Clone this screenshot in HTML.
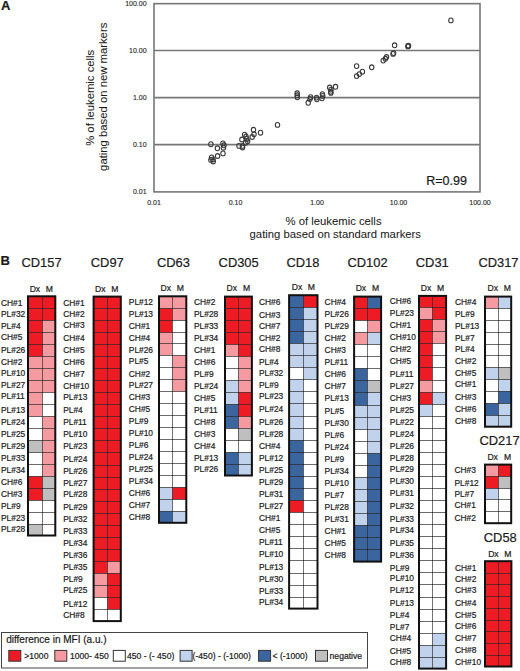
<!DOCTYPE html>
<html><head><meta charset="utf-8"><style>
*{margin:0;padding:0}
html,body{width:520px;height:671px;overflow:hidden;background:#fff}
svg{display:block}
text{font-family:"Liberation Sans",sans-serif;fill:#1a1a1a;stroke:#1a1a1a;stroke-width:0.2px}
.il{stroke:#000;stroke-opacity:0.58;stroke-width:1}
.vl{stroke:#000;stroke-opacity:0.55;stroke-width:1}
.ob{fill:none;stroke:#111;stroke-width:2}
.lb{font-size:8.4px}
.tt{font-size:12.9px;text-anchor:middle}
.dm{font-size:8.6px;text-anchor:middle}
.gl{stroke:#777;stroke-width:1.6}
.ax{fill:none;stroke:#777;stroke-width:1.6}
.tk{font-size:7px;stroke-width:0.1px}
.pt{fill:none;stroke:#3a3a3a;stroke-width:1.1}
.rv{font-size:12.5px}
.at{font-size:11.3px;stroke-width:0.05px}
.lg1{font-size:10px}
.lg2{font-size:8.6px}
.bl{font-size:13px;font-weight:bold}
</style></head>
<body><svg width="520" height="671" viewBox="0 0 520 671">
<text x="1.1" y="10.3" class="bl">A</text>
<text x="0.4" y="265.4" class="bl">B</text>
<line x1="154.00" y1="50.45" x2="480.00" y2="50.45" class="gl"/>
<line x1="154.00" y1="97.60" x2="480.00" y2="97.60" class="gl"/>
<line x1="154.00" y1="144.60" x2="480.00" y2="144.60" class="gl"/>
<rect x="154.00" y="3.65" width="326.00" height="188.25" class="ax"/>
<text x="146.6" y="6.15" class="tk" text-anchor="end">100.00</text>
<text x="146.6" y="52.95" class="tk" text-anchor="end">10.00</text>
<text x="146.6" y="100.10" class="tk" text-anchor="end">1.00</text>
<text x="146.6" y="147.10" class="tk" text-anchor="end">0.10</text>
<text x="146.6" y="194.40" class="tk" text-anchor="end">0.01</text>
<text x="154.00" y="205.0" class="tk" text-anchor="middle">0.01</text>
<text x="235.50" y="205.0" class="tk" text-anchor="middle">0.10</text>
<text x="317.00" y="205.0" class="tk" text-anchor="middle">1.00</text>
<text x="398.50" y="205.0" class="tk" text-anchor="middle">10.00</text>
<text x="480.00" y="205.0" class="tk" text-anchor="middle">100.00</text>
<ellipse cx="210.90" cy="144.20" rx="2.2" ry="2.4" class="pt"/>
<ellipse cx="217.40" cy="148.30" rx="2.2" ry="2.4" class="pt"/>
<ellipse cx="217.60" cy="156.00" rx="2.2" ry="2.4" class="pt"/>
<ellipse cx="223.00" cy="153.40" rx="2.2" ry="2.4" class="pt"/>
<ellipse cx="222.90" cy="143.40" rx="2.2" ry="2.4" class="pt"/>
<ellipse cx="224.00" cy="145.30" rx="2.2" ry="2.4" class="pt"/>
<ellipse cx="223.40" cy="147.70" rx="2.2" ry="2.4" class="pt"/>
<ellipse cx="211.60" cy="157.40" rx="2.2" ry="2.4" class="pt"/>
<ellipse cx="210.90" cy="159.90" rx="2.2" ry="2.4" class="pt"/>
<ellipse cx="213.00" cy="159.40" rx="2.2" ry="2.4" class="pt"/>
<ellipse cx="213.20" cy="161.50" rx="2.2" ry="2.4" class="pt"/>
<ellipse cx="239.00" cy="145.90" rx="2.2" ry="2.4" class="pt"/>
<ellipse cx="242.50" cy="145.90" rx="2.2" ry="2.4" class="pt"/>
<ellipse cx="242.50" cy="147.50" rx="2.2" ry="2.4" class="pt"/>
<ellipse cx="253.50" cy="129.80" rx="2.2" ry="2.4" class="pt"/>
<ellipse cx="260.50" cy="132.70" rx="2.2" ry="2.4" class="pt"/>
<ellipse cx="254.00" cy="134.30" rx="2.2" ry="2.4" class="pt"/>
<ellipse cx="252.20" cy="137.00" rx="2.2" ry="2.4" class="pt"/>
<ellipse cx="244.60" cy="134.60" rx="2.2" ry="2.4" class="pt"/>
<ellipse cx="246.00" cy="136.50" rx="2.2" ry="2.4" class="pt"/>
<ellipse cx="246.80" cy="138.90" rx="2.2" ry="2.4" class="pt"/>
<ellipse cx="241.90" cy="139.50" rx="2.2" ry="2.4" class="pt"/>
<ellipse cx="247.60" cy="141.30" rx="2.2" ry="2.4" class="pt"/>
<ellipse cx="245.70" cy="142.70" rx="2.2" ry="2.4" class="pt"/>
<ellipse cx="277.50" cy="124.90" rx="2.2" ry="2.4" class="pt"/>
<ellipse cx="297.20" cy="93.30" rx="2.2" ry="2.4" class="pt"/>
<ellipse cx="297.20" cy="95.30" rx="2.2" ry="2.4" class="pt"/>
<ellipse cx="297.30" cy="97.30" rx="2.2" ry="2.4" class="pt"/>
<ellipse cx="308.20" cy="102.80" rx="2.2" ry="2.4" class="pt"/>
<ellipse cx="310.60" cy="97.20" rx="2.2" ry="2.4" class="pt"/>
<ellipse cx="310.00" cy="99.00" rx="2.2" ry="2.4" class="pt"/>
<ellipse cx="316.50" cy="97.60" rx="2.2" ry="2.4" class="pt"/>
<ellipse cx="316.90" cy="99.30" rx="2.2" ry="2.4" class="pt"/>
<ellipse cx="322.40" cy="94.10" rx="2.2" ry="2.4" class="pt"/>
<ellipse cx="322.70" cy="95.90" rx="2.2" ry="2.4" class="pt"/>
<ellipse cx="322.00" cy="98.30" rx="2.2" ry="2.4" class="pt"/>
<ellipse cx="329.70" cy="87.50" rx="2.2" ry="2.4" class="pt"/>
<ellipse cx="331.00" cy="89.60" rx="2.2" ry="2.4" class="pt"/>
<ellipse cx="330.70" cy="91.70" rx="2.2" ry="2.4" class="pt"/>
<ellipse cx="330.90" cy="92.90" rx="2.2" ry="2.4" class="pt"/>
<ellipse cx="335.50" cy="86.80" rx="2.2" ry="2.4" class="pt"/>
<ellipse cx="356.60" cy="66.10" rx="2.2" ry="2.4" class="pt"/>
<ellipse cx="356.60" cy="76.10" rx="2.2" ry="2.4" class="pt"/>
<ellipse cx="359.30" cy="74.10" rx="2.2" ry="2.4" class="pt"/>
<ellipse cx="362.40" cy="71.70" rx="2.2" ry="2.4" class="pt"/>
<ellipse cx="371.70" cy="67.30" rx="2.2" ry="2.4" class="pt"/>
<ellipse cx="383.20" cy="60.60" rx="2.2" ry="2.4" class="pt"/>
<ellipse cx="385.40" cy="58.80" rx="2.2" ry="2.4" class="pt"/>
<ellipse cx="386.50" cy="57.00" rx="2.2" ry="2.4" class="pt"/>
<ellipse cx="394.60" cy="45.30" rx="2.2" ry="2.4" class="pt"/>
<ellipse cx="393.00" cy="53.90" rx="2.2" ry="2.4" class="pt"/>
<ellipse cx="393.60" cy="53.10" rx="2.2" ry="2.4" class="pt"/>
<ellipse cx="408.30" cy="45.60" rx="2.2" ry="2.4" class="pt"/>
<ellipse cx="407.90" cy="46.40" rx="2.2" ry="2.4" class="pt"/>
<ellipse cx="408.50" cy="46.00" rx="2.2" ry="2.4" class="pt"/>
<ellipse cx="450.90" cy="20.40" rx="2.2" ry="2.4" class="pt"/>
<text x="426.2" y="185.2" class="rv">R=0.99</text>
<text x="333.5" y="224.5" class="at" text-anchor="middle">% of leukemic cells</text>
<text x="335.3" y="237.6" class="at" text-anchor="middle">gating based on standard markers</text>
<g transform="translate(93.9,97.8) rotate(-90)"><text x="0" y="0" class="at" text-anchor="middle">% of leukemic cells</text></g>
<g transform="translate(106.9,96.8) rotate(-90)"><text x="0" y="0" class="at" text-anchor="middle">gating based on new markers</text></g>
<rect x="28.00" y="296.30" width="14.50" height="12.20" fill="#ED1C24"/>
<rect x="42.50" y="296.30" width="12.80" height="12.20" fill="#ED1C24"/>
<rect x="28.00" y="308.50" width="14.50" height="12.00" fill="#ED1C24"/>
<rect x="42.50" y="308.50" width="12.80" height="12.00" fill="#ED1C24"/>
<rect x="28.00" y="320.50" width="14.50" height="12.00" fill="#ED1C24"/>
<rect x="42.50" y="320.50" width="12.80" height="12.00" fill="#F59AA0"/>
<rect x="28.00" y="332.50" width="14.50" height="12.00" fill="#ED1C24"/>
<rect x="42.50" y="332.50" width="12.80" height="12.00" fill="#F59AA0"/>
<rect x="28.00" y="344.50" width="14.50" height="12.00" fill="#ED1C24"/>
<rect x="42.50" y="344.50" width="12.80" height="12.00" fill="#F59AA0"/>
<rect x="28.00" y="356.50" width="14.50" height="12.00" fill="#F59AA0"/>
<rect x="42.50" y="356.50" width="12.80" height="12.00" fill="#F59AA0"/>
<rect x="28.00" y="368.50" width="14.50" height="12.00" fill="#F59AA0"/>
<rect x="42.50" y="368.50" width="12.80" height="12.00" fill="#F59AA0"/>
<rect x="28.00" y="380.50" width="14.50" height="12.00" fill="#F59AA0"/>
<rect x="42.50" y="380.50" width="12.80" height="12.00" fill="#F59AA0"/>
<rect x="28.00" y="392.50" width="14.50" height="12.00" fill="#F59AA0"/>
<rect x="42.50" y="392.50" width="12.80" height="12.00" fill="#FFFFFF"/>
<rect x="28.00" y="404.50" width="14.50" height="12.00" fill="#F59AA0"/>
<rect x="42.50" y="404.50" width="12.80" height="12.00" fill="#FFFFFF"/>
<rect x="28.00" y="416.50" width="14.50" height="12.00" fill="#FFFFFF"/>
<rect x="42.50" y="416.50" width="12.80" height="12.00" fill="#F59AA0"/>
<rect x="28.00" y="428.50" width="14.50" height="12.00" fill="#FFFFFF"/>
<rect x="42.50" y="428.50" width="12.80" height="12.00" fill="#F59AA0"/>
<rect x="28.00" y="440.50" width="14.50" height="12.00" fill="#BFBFBF"/>
<rect x="42.50" y="440.50" width="12.80" height="12.00" fill="#F59AA0"/>
<rect x="28.00" y="452.50" width="14.50" height="12.00" fill="#FFFFFF"/>
<rect x="42.50" y="452.50" width="12.80" height="12.00" fill="#F59AA0"/>
<rect x="28.00" y="464.50" width="14.50" height="12.00" fill="#FFFFFF"/>
<rect x="42.50" y="464.50" width="12.80" height="12.00" fill="#F59AA0"/>
<rect x="28.00" y="476.50" width="14.50" height="12.00" fill="#ED1C24"/>
<rect x="42.50" y="476.50" width="12.80" height="12.00" fill="#BFBFBF"/>
<rect x="28.00" y="488.50" width="14.50" height="12.00" fill="#ED1C24"/>
<rect x="42.50" y="488.50" width="12.80" height="12.00" fill="#BFBFBF"/>
<rect x="28.00" y="500.50" width="14.50" height="12.00" fill="#FFFFFF"/>
<rect x="42.50" y="500.50" width="12.80" height="12.00" fill="#FFFFFF"/>
<rect x="28.00" y="512.50" width="14.50" height="12.00" fill="#FFFFFF"/>
<rect x="42.50" y="512.50" width="12.80" height="12.00" fill="#FFFFFF"/>
<rect x="28.00" y="524.50" width="14.50" height="11.00" fill="#BFBFBF"/>
<rect x="42.50" y="524.50" width="12.80" height="11.00" fill="#FFFFFF"/>
<line x1="28.00" y1="308.50" x2="55.30" y2="308.50" class="il"/>
<line x1="28.00" y1="320.50" x2="55.30" y2="320.50" class="il"/>
<line x1="28.00" y1="332.50" x2="55.30" y2="332.50" class="il"/>
<line x1="28.00" y1="344.50" x2="55.30" y2="344.50" class="il"/>
<line x1="28.00" y1="356.50" x2="55.30" y2="356.50" class="il"/>
<line x1="28.00" y1="368.50" x2="55.30" y2="368.50" class="il"/>
<line x1="28.00" y1="380.50" x2="55.30" y2="380.50" class="il"/>
<line x1="28.00" y1="392.50" x2="55.30" y2="392.50" class="il"/>
<line x1="28.00" y1="404.50" x2="55.30" y2="404.50" class="il"/>
<line x1="28.00" y1="416.50" x2="55.30" y2="416.50" class="il"/>
<line x1="28.00" y1="428.50" x2="55.30" y2="428.50" class="il"/>
<line x1="28.00" y1="440.50" x2="55.30" y2="440.50" class="il"/>
<line x1="28.00" y1="452.50" x2="55.30" y2="452.50" class="il"/>
<line x1="28.00" y1="464.50" x2="55.30" y2="464.50" class="il"/>
<line x1="28.00" y1="476.50" x2="55.30" y2="476.50" class="il"/>
<line x1="28.00" y1="488.50" x2="55.30" y2="488.50" class="il"/>
<line x1="28.00" y1="500.50" x2="55.30" y2="500.50" class="il"/>
<line x1="28.00" y1="512.50" x2="55.30" y2="512.50" class="il"/>
<line x1="28.00" y1="524.50" x2="55.30" y2="524.50" class="il"/>
<line x1="42.50" y1="296.30" x2="42.50" y2="535.50" class="vl"/>
<rect x="28.00" y="296.30" width="27.30" height="239.20" class="ob"/>
<text x="1.00" y="305.70" class="lb">CH#1</text>
<text x="1.00" y="317.40" class="lb">PL#32</text>
<text x="1.00" y="328.81" class="lb">PL#4</text>
<text x="1.00" y="340.31" class="lb">CH#5</text>
<text x="1.00" y="352.82" class="lb">PL#26</text>
<text x="1.00" y="364.82" class="lb">CH#2</text>
<text x="1.00" y="376.13" class="lb">PL#10</text>
<text x="1.00" y="387.94" class="lb">PL#27</text>
<text x="1.00" y="399.34" class="lb">PL#11</text>
<text x="1.00" y="412.85" class="lb">PL#13</text>
<text x="1.00" y="424.85" class="lb">PL#24</text>
<text x="1.00" y="436.86" class="lb">PL#25</text>
<text x="1.00" y="448.86" class="lb">PL#29</text>
<text x="1.00" y="460.87" class="lb">PL#33</text>
<text x="1.00" y="472.88" class="lb">PL#34</text>
<text x="1.00" y="484.88" class="lb">CH#6</text>
<text x="1.00" y="496.89" class="lb">CH#3</text>
<text x="1.00" y="508.89" class="lb">PL#9</text>
<text x="1.00" y="520.90" class="lb">PL#23</text>
<text x="1.00" y="532.45" class="lb">PL#28</text>
<text x="41.50" y="267.20" class="tt">CD157</text>
<text x="34.90" y="291.80" class="dm">Dx</text>
<text x="49.40" y="291.80" class="dm">M</text>
<rect x="93.60" y="296.60" width="13.90" height="11.90" fill="#ED1C24"/>
<rect x="107.50" y="296.60" width="13.30" height="11.90" fill="#ED1C24"/>
<rect x="93.60" y="308.50" width="13.90" height="12.00" fill="#ED1C24"/>
<rect x="107.50" y="308.50" width="13.30" height="12.00" fill="#ED1C24"/>
<rect x="93.60" y="320.50" width="13.90" height="12.00" fill="#ED1C24"/>
<rect x="107.50" y="320.50" width="13.30" height="12.00" fill="#ED1C24"/>
<rect x="93.60" y="332.50" width="13.90" height="12.00" fill="#ED1C24"/>
<rect x="107.50" y="332.50" width="13.30" height="12.00" fill="#ED1C24"/>
<rect x="93.60" y="344.50" width="13.90" height="12.00" fill="#ED1C24"/>
<rect x="107.50" y="344.50" width="13.30" height="12.00" fill="#ED1C24"/>
<rect x="93.60" y="356.50" width="13.90" height="12.00" fill="#ED1C24"/>
<rect x="107.50" y="356.50" width="13.30" height="12.00" fill="#ED1C24"/>
<rect x="93.60" y="368.50" width="13.90" height="12.00" fill="#ED1C24"/>
<rect x="107.50" y="368.50" width="13.30" height="12.00" fill="#ED1C24"/>
<rect x="93.60" y="380.50" width="13.90" height="12.00" fill="#ED1C24"/>
<rect x="107.50" y="380.50" width="13.30" height="12.00" fill="#ED1C24"/>
<rect x="93.60" y="392.50" width="13.90" height="12.00" fill="#ED1C24"/>
<rect x="107.50" y="392.50" width="13.30" height="12.00" fill="#ED1C24"/>
<rect x="93.60" y="404.50" width="13.90" height="12.00" fill="#ED1C24"/>
<rect x="107.50" y="404.50" width="13.30" height="12.00" fill="#ED1C24"/>
<rect x="93.60" y="416.50" width="13.90" height="12.00" fill="#ED1C24"/>
<rect x="107.50" y="416.50" width="13.30" height="12.00" fill="#ED1C24"/>
<rect x="93.60" y="428.50" width="13.90" height="12.00" fill="#ED1C24"/>
<rect x="107.50" y="428.50" width="13.30" height="12.00" fill="#ED1C24"/>
<rect x="93.60" y="440.50" width="13.90" height="12.00" fill="#ED1C24"/>
<rect x="107.50" y="440.50" width="13.30" height="12.00" fill="#ED1C24"/>
<rect x="93.60" y="452.50" width="13.90" height="13.00" fill="#ED1C24"/>
<rect x="107.50" y="452.50" width="13.30" height="13.00" fill="#ED1C24"/>
<rect x="93.60" y="465.50" width="13.90" height="12.00" fill="#ED1C24"/>
<rect x="107.50" y="465.50" width="13.30" height="12.00" fill="#ED1C24"/>
<rect x="93.60" y="477.50" width="13.90" height="12.00" fill="#ED1C24"/>
<rect x="107.50" y="477.50" width="13.30" height="12.00" fill="#ED1C24"/>
<rect x="93.60" y="489.50" width="13.90" height="12.00" fill="#ED1C24"/>
<rect x="107.50" y="489.50" width="13.30" height="12.00" fill="#ED1C24"/>
<rect x="93.60" y="501.50" width="13.90" height="12.00" fill="#ED1C24"/>
<rect x="107.50" y="501.50" width="13.30" height="12.00" fill="#ED1C24"/>
<rect x="93.60" y="513.50" width="13.90" height="12.00" fill="#ED1C24"/>
<rect x="107.50" y="513.50" width="13.30" height="12.00" fill="#ED1C24"/>
<rect x="93.60" y="525.50" width="13.90" height="12.00" fill="#ED1C24"/>
<rect x="107.50" y="525.50" width="13.30" height="12.00" fill="#ED1C24"/>
<rect x="93.60" y="537.50" width="13.90" height="12.00" fill="#ED1C24"/>
<rect x="107.50" y="537.50" width="13.30" height="12.00" fill="#ED1C24"/>
<rect x="93.60" y="549.50" width="13.90" height="12.00" fill="#ED1C24"/>
<rect x="107.50" y="549.50" width="13.30" height="12.00" fill="#ED1C24"/>
<rect x="93.60" y="561.50" width="13.90" height="12.00" fill="#ED1C24"/>
<rect x="107.50" y="561.50" width="13.30" height="12.00" fill="#F59AA0"/>
<rect x="93.60" y="573.50" width="13.90" height="12.00" fill="#F59AA0"/>
<rect x="107.50" y="573.50" width="13.30" height="12.00" fill="#ED1C24"/>
<rect x="93.60" y="585.50" width="13.90" height="12.00" fill="#F59AA0"/>
<rect x="107.50" y="585.50" width="13.30" height="12.00" fill="#ED1C24"/>
<rect x="93.60" y="597.50" width="13.90" height="12.00" fill="#FFFFFF"/>
<rect x="107.50" y="597.50" width="13.30" height="12.00" fill="#ED1C24"/>
<rect x="93.60" y="609.50" width="13.90" height="11.60" fill="#FFFFFF"/>
<rect x="107.50" y="609.50" width="13.30" height="11.60" fill="#FFFFFF"/>
<line x1="93.60" y1="308.50" x2="120.80" y2="308.50" class="il"/>
<line x1="93.60" y1="320.50" x2="120.80" y2="320.50" class="il"/>
<line x1="93.60" y1="332.50" x2="120.80" y2="332.50" class="il"/>
<line x1="93.60" y1="344.50" x2="120.80" y2="344.50" class="il"/>
<line x1="93.60" y1="356.50" x2="120.80" y2="356.50" class="il"/>
<line x1="93.60" y1="368.50" x2="120.80" y2="368.50" class="il"/>
<line x1="93.60" y1="380.50" x2="120.80" y2="380.50" class="il"/>
<line x1="93.60" y1="392.50" x2="120.80" y2="392.50" class="il"/>
<line x1="93.60" y1="404.50" x2="120.80" y2="404.50" class="il"/>
<line x1="93.60" y1="416.50" x2="120.80" y2="416.50" class="il"/>
<line x1="93.60" y1="428.50" x2="120.80" y2="428.50" class="il"/>
<line x1="93.60" y1="440.50" x2="120.80" y2="440.50" class="il"/>
<line x1="93.60" y1="452.50" x2="120.80" y2="452.50" class="il"/>
<line x1="93.60" y1="465.50" x2="120.80" y2="465.50" class="il"/>
<line x1="93.60" y1="477.50" x2="120.80" y2="477.50" class="il"/>
<line x1="93.60" y1="489.50" x2="120.80" y2="489.50" class="il"/>
<line x1="93.60" y1="501.50" x2="120.80" y2="501.50" class="il"/>
<line x1="93.60" y1="513.50" x2="120.80" y2="513.50" class="il"/>
<line x1="93.60" y1="525.50" x2="120.80" y2="525.50" class="il"/>
<line x1="93.60" y1="537.50" x2="120.80" y2="537.50" class="il"/>
<line x1="93.60" y1="549.50" x2="120.80" y2="549.50" class="il"/>
<line x1="93.60" y1="561.50" x2="120.80" y2="561.50" class="il"/>
<line x1="93.60" y1="573.50" x2="120.80" y2="573.50" class="il"/>
<line x1="93.60" y1="585.50" x2="120.80" y2="585.50" class="il"/>
<line x1="93.60" y1="597.50" x2="120.80" y2="597.50" class="il"/>
<line x1="93.60" y1="609.50" x2="120.80" y2="609.50" class="il"/>
<line x1="107.50" y1="296.60" x2="107.50" y2="621.10" class="vl"/>
<rect x="93.60" y="296.60" width="27.20" height="324.50" class="ob"/>
<text x="63.20" y="305.85" class="lb">CH#1</text>
<text x="63.20" y="317.02" class="lb">CH#2</text>
<text x="63.20" y="328.26" class="lb">CH#3</text>
<text x="63.20" y="341.10" class="lb">CH#4</text>
<text x="63.20" y="353.14" class="lb">CH#5</text>
<text x="63.20" y="365.18" class="lb">CH#6</text>
<text x="63.20" y="377.22" class="lb">CH#7</text>
<text x="63.20" y="389.26" class="lb">CH#10</text>
<text x="63.20" y="400.30" class="lb">PL#13</text>
<text x="63.20" y="412.54" class="lb">PL#4</text>
<text x="63.20" y="424.68" class="lb">PL#11</text>
<text x="63.20" y="436.92" class="lb">PL#10</text>
<text x="63.20" y="449.46" class="lb">PL#23</text>
<text x="63.20" y="461.50" class="lb">PL#24</text>
<text x="63.20" y="473.54" class="lb">PL#26</text>
<text x="63.20" y="485.58" class="lb">PL#27</text>
<text x="63.20" y="497.02" class="lb">PL#28</text>
<text x="63.20" y="509.66" class="lb">PL#29</text>
<text x="63.20" y="521.70" class="lb">PL#32</text>
<text x="63.20" y="533.74" class="lb">PL#33</text>
<text x="63.20" y="545.78" class="lb">PL#34</text>
<text x="63.20" y="557.82" class="lb">PL#36</text>
<text x="63.20" y="569.86" class="lb">PL#35</text>
<text x="63.20" y="581.90" class="lb">PL#9</text>
<text x="63.20" y="592.74" class="lb">PL#25</text>
<text x="63.20" y="606.88" class="lb">PL#12</text>
<text x="63.20" y="617.80" class="lb">CH#8</text>
<text x="107.30" y="267.20" class="tt">CD97</text>
<text x="100.30" y="291.80" class="dm">Dx</text>
<text x="114.85" y="291.80" class="dm">M</text>
<rect x="159.00" y="296.30" width="13.50" height="12.20" fill="#F59AA0"/>
<rect x="172.50" y="296.30" width="13.80" height="12.20" fill="#F59AA0"/>
<rect x="159.00" y="308.50" width="13.50" height="12.00" fill="#ED1C24"/>
<rect x="172.50" y="308.50" width="13.80" height="12.00" fill="#F59AA0"/>
<rect x="159.00" y="320.50" width="13.50" height="12.00" fill="#ED1C24"/>
<rect x="172.50" y="320.50" width="13.80" height="12.00" fill="#FFFFFF"/>
<rect x="159.00" y="332.50" width="13.50" height="11.00" fill="#F59AA0"/>
<rect x="172.50" y="332.50" width="13.80" height="11.00" fill="#FFFFFF"/>
<rect x="159.00" y="343.50" width="13.50" height="12.00" fill="#F59AA0"/>
<rect x="172.50" y="343.50" width="13.80" height="12.00" fill="#FFFFFF"/>
<rect x="159.00" y="355.50" width="13.50" height="12.00" fill="#FFFFFF"/>
<rect x="172.50" y="355.50" width="13.80" height="12.00" fill="#F59AA0"/>
<rect x="159.00" y="367.50" width="13.50" height="12.00" fill="#FFFFFF"/>
<rect x="172.50" y="367.50" width="13.80" height="12.00" fill="#F59AA0"/>
<rect x="159.00" y="379.50" width="13.50" height="12.00" fill="#FFFFFF"/>
<rect x="172.50" y="379.50" width="13.80" height="12.00" fill="#F59AA0"/>
<rect x="159.00" y="391.50" width="13.50" height="12.00" fill="#FFFFFF"/>
<rect x="172.50" y="391.50" width="13.80" height="12.00" fill="#FFFFFF"/>
<rect x="159.00" y="403.50" width="13.50" height="12.00" fill="#FFFFFF"/>
<rect x="172.50" y="403.50" width="13.80" height="12.00" fill="#FFFFFF"/>
<rect x="159.00" y="415.50" width="13.50" height="12.00" fill="#FFFFFF"/>
<rect x="172.50" y="415.50" width="13.80" height="12.00" fill="#FFFFFF"/>
<rect x="159.00" y="427.50" width="13.50" height="12.00" fill="#FFFFFF"/>
<rect x="172.50" y="427.50" width="13.80" height="12.00" fill="#FFFFFF"/>
<rect x="159.00" y="439.50" width="13.50" height="12.00" fill="#FFFFFF"/>
<rect x="172.50" y="439.50" width="13.80" height="12.00" fill="#FFFFFF"/>
<rect x="159.00" y="451.50" width="13.50" height="12.00" fill="#FFFFFF"/>
<rect x="172.50" y="451.50" width="13.80" height="12.00" fill="#FFFFFF"/>
<rect x="159.00" y="463.50" width="13.50" height="12.00" fill="#FFFFFF"/>
<rect x="172.50" y="463.50" width="13.80" height="12.00" fill="#FFFFFF"/>
<rect x="159.00" y="475.50" width="13.50" height="12.00" fill="#FFFFFF"/>
<rect x="172.50" y="475.50" width="13.80" height="12.00" fill="#FFFFFF"/>
<rect x="159.00" y="487.50" width="13.50" height="12.00" fill="#C0D2EC"/>
<rect x="172.50" y="487.50" width="13.80" height="12.00" fill="#ED1C24"/>
<rect x="159.00" y="499.50" width="13.50" height="12.00" fill="#C0D2EC"/>
<rect x="172.50" y="499.50" width="13.80" height="12.00" fill="#FFFFFF"/>
<rect x="159.00" y="511.50" width="13.50" height="11.30" fill="#3A659F"/>
<rect x="172.50" y="511.50" width="13.80" height="11.30" fill="#C0D2EC"/>
<line x1="159.00" y1="308.50" x2="186.30" y2="308.50" class="il"/>
<line x1="159.00" y1="320.50" x2="186.30" y2="320.50" class="il"/>
<line x1="159.00" y1="332.50" x2="186.30" y2="332.50" class="il"/>
<line x1="159.00" y1="343.50" x2="186.30" y2="343.50" class="il"/>
<line x1="159.00" y1="355.50" x2="186.30" y2="355.50" class="il"/>
<line x1="159.00" y1="367.50" x2="186.30" y2="367.50" class="il"/>
<line x1="159.00" y1="379.50" x2="186.30" y2="379.50" class="il"/>
<line x1="159.00" y1="391.50" x2="186.30" y2="391.50" class="il"/>
<line x1="159.00" y1="403.50" x2="186.30" y2="403.50" class="il"/>
<line x1="159.00" y1="415.50" x2="186.30" y2="415.50" class="il"/>
<line x1="159.00" y1="427.50" x2="186.30" y2="427.50" class="il"/>
<line x1="159.00" y1="439.50" x2="186.30" y2="439.50" class="il"/>
<line x1="159.00" y1="451.50" x2="186.30" y2="451.50" class="il"/>
<line x1="159.00" y1="463.50" x2="186.30" y2="463.50" class="il"/>
<line x1="159.00" y1="475.50" x2="186.30" y2="475.50" class="il"/>
<line x1="159.00" y1="487.50" x2="186.30" y2="487.50" class="il"/>
<line x1="159.00" y1="499.50" x2="186.30" y2="499.50" class="il"/>
<line x1="159.00" y1="511.50" x2="186.30" y2="511.50" class="il"/>
<line x1="172.50" y1="296.30" x2="172.50" y2="522.80" class="vl"/>
<rect x="159.00" y="296.30" width="27.30" height="226.50" class="ob"/>
<text x="128.80" y="305.40" class="lb">PL#12</text>
<text x="128.80" y="317.38" class="lb">PL#13</text>
<text x="128.80" y="328.90" class="lb">CH#1</text>
<text x="128.80" y="340.91" class="lb">CH#4</text>
<text x="128.80" y="352.88" class="lb">PL#26</text>
<text x="128.80" y="364.19" class="lb">PL#5</text>
<text x="128.80" y="376.51" class="lb">CH#2</text>
<text x="128.80" y="387.67" class="lb">PL#27</text>
<text x="128.80" y="399.69" class="lb">CH#3</text>
<text x="128.80" y="412.30" class="lb">CH#5</text>
<text x="128.80" y="424.26" class="lb">PL#9</text>
<text x="128.80" y="436.23" class="lb">PL#10</text>
<text x="128.80" y="448.19" class="lb">PL#6</text>
<text x="128.80" y="460.16" class="lb">PL#24</text>
<text x="128.80" y="472.12" class="lb">PL#25</text>
<text x="128.80" y="484.09" class="lb">PL#34</text>
<text x="128.80" y="496.05" class="lb">CH#6</text>
<text x="128.80" y="508.02" class="lb">CH#7</text>
<text x="128.80" y="519.65" class="lb">CH#8</text>
<text x="173.45" y="267.20" class="tt">CD63</text>
<text x="165.80" y="290.60" class="dm">Dx</text>
<text x="180.40" y="290.60" class="dm">M</text>
<rect x="225.00" y="296.60" width="13.50" height="11.90" fill="#ED1C24"/>
<rect x="238.50" y="296.60" width="13.40" height="11.90" fill="#ED1C24"/>
<rect x="225.00" y="308.50" width="13.50" height="12.00" fill="#ED1C24"/>
<rect x="238.50" y="308.50" width="13.40" height="12.00" fill="#ED1C24"/>
<rect x="225.00" y="320.50" width="13.50" height="12.00" fill="#ED1C24"/>
<rect x="238.50" y="320.50" width="13.40" height="12.00" fill="#ED1C24"/>
<rect x="225.00" y="332.50" width="13.50" height="12.00" fill="#ED1C24"/>
<rect x="238.50" y="332.50" width="13.40" height="12.00" fill="#ED1C24"/>
<rect x="225.00" y="344.50" width="13.50" height="12.00" fill="#F59AA0"/>
<rect x="238.50" y="344.50" width="13.40" height="12.00" fill="#ED1C24"/>
<rect x="225.00" y="356.50" width="13.50" height="12.00" fill="#FFFFFF"/>
<rect x="238.50" y="356.50" width="13.40" height="12.00" fill="#F59AA0"/>
<rect x="225.00" y="368.50" width="13.50" height="12.00" fill="#FFFFFF"/>
<rect x="238.50" y="368.50" width="13.40" height="12.00" fill="#F59AA0"/>
<rect x="225.00" y="380.50" width="13.50" height="12.00" fill="#C0D2EC"/>
<rect x="238.50" y="380.50" width="13.40" height="12.00" fill="#F59AA0"/>
<rect x="225.00" y="392.50" width="13.50" height="12.00" fill="#C0D2EC"/>
<rect x="238.50" y="392.50" width="13.40" height="12.00" fill="#ED1C24"/>
<rect x="225.00" y="404.50" width="13.50" height="12.00" fill="#3A659F"/>
<rect x="238.50" y="404.50" width="13.40" height="12.00" fill="#ED1C24"/>
<rect x="225.00" y="416.50" width="13.50" height="12.00" fill="#3A659F"/>
<rect x="238.50" y="416.50" width="13.40" height="12.00" fill="#F59AA0"/>
<rect x="225.00" y="428.50" width="13.50" height="12.00" fill="#FFFFFF"/>
<rect x="238.50" y="428.50" width="13.40" height="12.00" fill="#BFBFBF"/>
<rect x="225.00" y="440.50" width="13.50" height="12.00" fill="#FFFFFF"/>
<rect x="238.50" y="440.50" width="13.40" height="12.00" fill="#FFFFFF"/>
<rect x="225.00" y="452.50" width="13.50" height="12.00" fill="#3A659F"/>
<rect x="238.50" y="452.50" width="13.40" height="12.00" fill="#C0D2EC"/>
<rect x="225.00" y="464.50" width="13.50" height="11.00" fill="#3A659F"/>
<rect x="238.50" y="464.50" width="13.40" height="11.00" fill="#C0D2EC"/>
<line x1="225.00" y1="308.50" x2="251.90" y2="308.50" class="il"/>
<line x1="225.00" y1="320.50" x2="251.90" y2="320.50" class="il"/>
<line x1="225.00" y1="332.50" x2="251.90" y2="332.50" class="il"/>
<line x1="225.00" y1="344.50" x2="251.90" y2="344.50" class="il"/>
<line x1="225.00" y1="356.50" x2="251.90" y2="356.50" class="il"/>
<line x1="225.00" y1="368.50" x2="251.90" y2="368.50" class="il"/>
<line x1="225.00" y1="380.50" x2="251.90" y2="380.50" class="il"/>
<line x1="225.00" y1="392.50" x2="251.90" y2="392.50" class="il"/>
<line x1="225.00" y1="404.50" x2="251.90" y2="404.50" class="il"/>
<line x1="225.00" y1="416.50" x2="251.90" y2="416.50" class="il"/>
<line x1="225.00" y1="428.50" x2="251.90" y2="428.50" class="il"/>
<line x1="225.00" y1="440.50" x2="251.90" y2="440.50" class="il"/>
<line x1="225.00" y1="452.50" x2="251.90" y2="452.50" class="il"/>
<line x1="225.00" y1="464.50" x2="251.90" y2="464.50" class="il"/>
<line x1="238.50" y1="296.60" x2="238.50" y2="475.50" class="vl"/>
<rect x="225.00" y="296.60" width="26.90" height="178.90" class="ob"/>
<text x="194.00" y="305.15" class="lb">CH#2</text>
<text x="194.00" y="317.18" class="lb">PL#28</text>
<text x="194.00" y="329.14" class="lb">PL#33</text>
<text x="194.00" y="341.10" class="lb">PL#34</text>
<text x="194.00" y="353.07" class="lb">CH#1</text>
<text x="194.00" y="365.03" class="lb">CH#6</text>
<text x="194.00" y="376.99" class="lb">PL#9</text>
<text x="194.00" y="388.95" class="lb">PL#24</text>
<text x="194.00" y="400.91" class="lb">CH#5</text>
<text x="194.00" y="412.87" class="lb">PL#11</text>
<text x="194.00" y="424.83" class="lb">CH#8</text>
<text x="194.00" y="436.80" class="lb">CH#3</text>
<text x="194.00" y="448.76" class="lb">CH#4</text>
<text x="194.00" y="460.72" class="lb">PL#13</text>
<text x="194.00" y="472.35" class="lb">PL#26</text>
<text x="238.65" y="267.20" class="tt">CD305</text>
<text x="231.80" y="290.80" class="dm">Dx</text>
<text x="246.55" y="290.80" class="dm">M</text>
<rect x="289.10" y="295.20" width="14.40" height="12.30" fill="#3A659F"/>
<rect x="303.50" y="295.20" width="14.00" height="12.30" fill="#ED1C24"/>
<rect x="289.10" y="307.50" width="14.40" height="12.00" fill="#3A659F"/>
<rect x="303.50" y="307.50" width="14.00" height="12.00" fill="#C0D2EC"/>
<rect x="289.10" y="319.50" width="14.40" height="12.00" fill="#3A659F"/>
<rect x="303.50" y="319.50" width="14.00" height="12.00" fill="#C0D2EC"/>
<rect x="289.10" y="331.50" width="14.40" height="12.00" fill="#3A659F"/>
<rect x="303.50" y="331.50" width="14.00" height="12.00" fill="#C0D2EC"/>
<rect x="289.10" y="343.50" width="14.40" height="12.00" fill="#C0D2EC"/>
<rect x="303.50" y="343.50" width="14.00" height="12.00" fill="#C0D2EC"/>
<rect x="289.10" y="355.50" width="14.40" height="12.00" fill="#C0D2EC"/>
<rect x="303.50" y="355.50" width="14.00" height="12.00" fill="#C0D2EC"/>
<rect x="289.10" y="367.50" width="14.40" height="12.00" fill="#FFFFFF"/>
<rect x="303.50" y="367.50" width="14.00" height="12.00" fill="#C0D2EC"/>
<rect x="289.10" y="379.50" width="14.40" height="12.00" fill="#C0D2EC"/>
<rect x="303.50" y="379.50" width="14.00" height="12.00" fill="#FFFFFF"/>
<rect x="289.10" y="391.50" width="14.40" height="12.00" fill="#C0D2EC"/>
<rect x="303.50" y="391.50" width="14.00" height="12.00" fill="#FFFFFF"/>
<rect x="289.10" y="403.50" width="14.40" height="13.00" fill="#C0D2EC"/>
<rect x="303.50" y="403.50" width="14.00" height="13.00" fill="#FFFFFF"/>
<rect x="289.10" y="416.50" width="14.40" height="12.00" fill="#C0D2EC"/>
<rect x="303.50" y="416.50" width="14.00" height="12.00" fill="#FFFFFF"/>
<rect x="289.10" y="428.50" width="14.40" height="12.00" fill="#C0D2EC"/>
<rect x="303.50" y="428.50" width="14.00" height="12.00" fill="#FFFFFF"/>
<rect x="289.10" y="440.50" width="14.40" height="12.00" fill="#3A659F"/>
<rect x="303.50" y="440.50" width="14.00" height="12.00" fill="#FFFFFF"/>
<rect x="289.10" y="452.50" width="14.40" height="12.00" fill="#3A659F"/>
<rect x="303.50" y="452.50" width="14.00" height="12.00" fill="#FFFFFF"/>
<rect x="289.10" y="464.50" width="14.40" height="12.00" fill="#3A659F"/>
<rect x="303.50" y="464.50" width="14.00" height="12.00" fill="#FFFFFF"/>
<rect x="289.10" y="476.50" width="14.40" height="12.00" fill="#3A659F"/>
<rect x="303.50" y="476.50" width="14.00" height="12.00" fill="#FFFFFF"/>
<rect x="289.10" y="488.50" width="14.40" height="12.00" fill="#3A659F"/>
<rect x="303.50" y="488.50" width="14.00" height="12.00" fill="#FFFFFF"/>
<rect x="289.10" y="500.50" width="14.40" height="12.00" fill="#ED1C24"/>
<rect x="303.50" y="500.50" width="14.00" height="12.00" fill="#FFFFFF"/>
<rect x="289.10" y="512.50" width="14.40" height="12.00" fill="#FFFFFF"/>
<rect x="303.50" y="512.50" width="14.00" height="12.00" fill="#FFFFFF"/>
<rect x="289.10" y="524.50" width="14.40" height="12.00" fill="#FFFFFF"/>
<rect x="303.50" y="524.50" width="14.00" height="12.00" fill="#FFFFFF"/>
<rect x="289.10" y="536.50" width="14.40" height="12.00" fill="#FFFFFF"/>
<rect x="303.50" y="536.50" width="14.00" height="12.00" fill="#FFFFFF"/>
<rect x="289.10" y="548.50" width="14.40" height="12.00" fill="#FFFFFF"/>
<rect x="303.50" y="548.50" width="14.00" height="12.00" fill="#FFFFFF"/>
<rect x="289.10" y="560.50" width="14.40" height="13.00" fill="#FFFFFF"/>
<rect x="303.50" y="560.50" width="14.00" height="13.00" fill="#FFFFFF"/>
<rect x="289.10" y="573.50" width="14.40" height="12.00" fill="#FFFFFF"/>
<rect x="303.50" y="573.50" width="14.00" height="12.00" fill="#FFFFFF"/>
<rect x="289.10" y="585.50" width="14.40" height="12.00" fill="#FFFFFF"/>
<rect x="303.50" y="585.50" width="14.00" height="12.00" fill="#FFFFFF"/>
<rect x="289.10" y="597.50" width="14.40" height="11.10" fill="#FFFFFF"/>
<rect x="303.50" y="597.50" width="14.00" height="11.10" fill="#FFFFFF"/>
<line x1="289.10" y1="307.50" x2="317.50" y2="307.50" class="il"/>
<line x1="289.10" y1="319.50" x2="317.50" y2="319.50" class="il"/>
<line x1="289.10" y1="331.50" x2="317.50" y2="331.50" class="il"/>
<line x1="289.10" y1="343.50" x2="317.50" y2="343.50" class="il"/>
<line x1="289.10" y1="355.50" x2="317.50" y2="355.50" class="il"/>
<line x1="289.10" y1="367.50" x2="317.50" y2="367.50" class="il"/>
<line x1="289.10" y1="379.50" x2="317.50" y2="379.50" class="il"/>
<line x1="289.10" y1="391.50" x2="317.50" y2="391.50" class="il"/>
<line x1="289.10" y1="403.50" x2="317.50" y2="403.50" class="il"/>
<line x1="289.10" y1="416.50" x2="317.50" y2="416.50" class="il"/>
<line x1="289.10" y1="428.50" x2="317.50" y2="428.50" class="il"/>
<line x1="289.10" y1="440.50" x2="317.50" y2="440.50" class="il"/>
<line x1="289.10" y1="452.50" x2="317.50" y2="452.50" class="il"/>
<line x1="289.10" y1="464.50" x2="317.50" y2="464.50" class="il"/>
<line x1="289.10" y1="476.50" x2="317.50" y2="476.50" class="il"/>
<line x1="289.10" y1="488.50" x2="317.50" y2="488.50" class="il"/>
<line x1="289.10" y1="500.50" x2="317.50" y2="500.50" class="il"/>
<line x1="289.10" y1="512.50" x2="317.50" y2="512.50" class="il"/>
<line x1="289.10" y1="524.50" x2="317.50" y2="524.50" class="il"/>
<line x1="289.10" y1="536.50" x2="317.50" y2="536.50" class="il"/>
<line x1="289.10" y1="548.50" x2="317.50" y2="548.50" class="il"/>
<line x1="289.10" y1="560.50" x2="317.50" y2="560.50" class="il"/>
<line x1="289.10" y1="573.50" x2="317.50" y2="573.50" class="il"/>
<line x1="289.10" y1="585.50" x2="317.50" y2="585.50" class="il"/>
<line x1="289.10" y1="597.50" x2="317.50" y2="597.50" class="il"/>
<line x1="303.50" y1="295.20" x2="303.50" y2="608.60" class="vl"/>
<rect x="289.10" y="295.20" width="28.40" height="313.40" class="ob"/>
<text x="259.00" y="305.15" class="lb">CH#6</text>
<text x="259.00" y="317.64" class="lb">CH#3</text>
<text x="259.00" y="329.32" class="lb">CH#7</text>
<text x="259.00" y="340.60" class="lb">CH#2</text>
<text x="259.00" y="352.08" class="lb">CH#8</text>
<text x="259.00" y="364.86" class="lb">PL#4</text>
<text x="259.00" y="375.84" class="lb">PL#32</text>
<text x="259.00" y="388.31" class="lb">PL#9</text>
<text x="259.00" y="399.29" class="lb">PL#23</text>
<text x="259.00" y="412.47" class="lb">PL#24</text>
<text x="259.00" y="424.55" class="lb">PL#26</text>
<text x="259.00" y="436.63" class="lb">PL#28</text>
<text x="259.00" y="448.71" class="lb">CH#4</text>
<text x="259.00" y="460.79" class="lb">PL#12</text>
<text x="259.00" y="472.87" class="lb">PL#25</text>
<text x="259.00" y="484.95" class="lb">PL#29</text>
<text x="259.00" y="497.03" class="lb">PL#31</text>
<text x="259.00" y="509.11" class="lb">PL#27</text>
<text x="259.00" y="521.19" class="lb">CH#1</text>
<text x="259.00" y="533.26" class="lb">CH#5</text>
<text x="259.00" y="545.34" class="lb">PL#11</text>
<text x="259.00" y="557.42" class="lb">PL#10</text>
<text x="259.00" y="569.50" class="lb">PL#13</text>
<text x="259.00" y="581.58" class="lb">PL#30</text>
<text x="259.00" y="593.66" class="lb">PL#33</text>
<text x="259.00" y="605.40" class="lb">PL#34</text>
<text x="302.90" y="267.20" class="tt">CD18</text>
<text x="297.00" y="290.20" class="dm">Dx</text>
<text x="311.35" y="290.20" class="dm">M</text>
<rect x="354.10" y="296.60" width="13.40" height="11.90" fill="#ED1C24"/>
<rect x="367.50" y="296.60" width="13.60" height="11.90" fill="#3A659F"/>
<rect x="354.10" y="308.50" width="13.40" height="12.00" fill="#ED1C24"/>
<rect x="367.50" y="308.50" width="13.60" height="12.00" fill="#ED1C24"/>
<rect x="354.10" y="320.50" width="13.40" height="12.00" fill="#FFFFFF"/>
<rect x="367.50" y="320.50" width="13.60" height="12.00" fill="#F59AA0"/>
<rect x="354.10" y="332.50" width="13.40" height="12.00" fill="#F59AA0"/>
<rect x="367.50" y="332.50" width="13.60" height="12.00" fill="#C0D2EC"/>
<rect x="354.10" y="344.50" width="13.40" height="12.00" fill="#FFFFFF"/>
<rect x="367.50" y="344.50" width="13.60" height="12.00" fill="#FFFFFF"/>
<rect x="354.10" y="356.50" width="13.40" height="12.00" fill="#FFFFFF"/>
<rect x="367.50" y="356.50" width="13.60" height="12.00" fill="#FFFFFF"/>
<rect x="354.10" y="368.50" width="13.40" height="12.00" fill="#3A659F"/>
<rect x="367.50" y="368.50" width="13.60" height="12.00" fill="#FFFFFF"/>
<rect x="354.10" y="380.50" width="13.40" height="12.00" fill="#3A659F"/>
<rect x="367.50" y="380.50" width="13.60" height="12.00" fill="#BFBFBF"/>
<rect x="354.10" y="392.50" width="13.40" height="13.00" fill="#3A659F"/>
<rect x="367.50" y="392.50" width="13.60" height="13.00" fill="#C0D2EC"/>
<rect x="354.10" y="405.50" width="13.40" height="12.00" fill="#C0D2EC"/>
<rect x="367.50" y="405.50" width="13.60" height="12.00" fill="#C0D2EC"/>
<rect x="354.10" y="417.50" width="13.40" height="12.00" fill="#C0D2EC"/>
<rect x="367.50" y="417.50" width="13.60" height="12.00" fill="#C0D2EC"/>
<rect x="354.10" y="429.50" width="13.40" height="12.00" fill="#FFFFFF"/>
<rect x="367.50" y="429.50" width="13.60" height="12.00" fill="#C0D2EC"/>
<rect x="354.10" y="441.50" width="13.40" height="12.00" fill="#FFFFFF"/>
<rect x="367.50" y="441.50" width="13.60" height="12.00" fill="#C0D2EC"/>
<rect x="354.10" y="453.50" width="13.40" height="12.00" fill="#FFFFFF"/>
<rect x="367.50" y="453.50" width="13.60" height="12.00" fill="#3A659F"/>
<rect x="354.10" y="465.50" width="13.40" height="12.00" fill="#FFFFFF"/>
<rect x="367.50" y="465.50" width="13.60" height="12.00" fill="#3A659F"/>
<rect x="354.10" y="477.50" width="13.40" height="12.00" fill="#C0D2EC"/>
<rect x="367.50" y="477.50" width="13.60" height="12.00" fill="#3A659F"/>
<rect x="354.10" y="489.50" width="13.40" height="12.00" fill="#C0D2EC"/>
<rect x="367.50" y="489.50" width="13.60" height="12.00" fill="#3A659F"/>
<rect x="354.10" y="501.50" width="13.40" height="12.00" fill="#C0D2EC"/>
<rect x="367.50" y="501.50" width="13.60" height="12.00" fill="#3A659F"/>
<rect x="354.10" y="513.50" width="13.40" height="12.00" fill="#C0D2EC"/>
<rect x="367.50" y="513.50" width="13.60" height="12.00" fill="#3A659F"/>
<rect x="354.10" y="525.50" width="13.40" height="12.00" fill="#3A659F"/>
<rect x="367.50" y="525.50" width="13.60" height="12.00" fill="#3A659F"/>
<rect x="354.10" y="537.50" width="13.40" height="12.00" fill="#3A659F"/>
<rect x="367.50" y="537.50" width="13.60" height="12.00" fill="#3A659F"/>
<rect x="354.10" y="549.50" width="13.40" height="12.10" fill="#3A659F"/>
<rect x="367.50" y="549.50" width="13.60" height="12.10" fill="#3A659F"/>
<line x1="354.10" y1="308.50" x2="381.10" y2="308.50" class="il"/>
<line x1="354.10" y1="320.50" x2="381.10" y2="320.50" class="il"/>
<line x1="354.10" y1="332.50" x2="381.10" y2="332.50" class="il"/>
<line x1="354.10" y1="344.50" x2="381.10" y2="344.50" class="il"/>
<line x1="354.10" y1="356.50" x2="381.10" y2="356.50" class="il"/>
<line x1="354.10" y1="368.50" x2="381.10" y2="368.50" class="il"/>
<line x1="354.10" y1="380.50" x2="381.10" y2="380.50" class="il"/>
<line x1="354.10" y1="392.50" x2="381.10" y2="392.50" class="il"/>
<line x1="354.10" y1="405.50" x2="381.10" y2="405.50" class="il"/>
<line x1="354.10" y1="417.50" x2="381.10" y2="417.50" class="il"/>
<line x1="354.10" y1="429.50" x2="381.10" y2="429.50" class="il"/>
<line x1="354.10" y1="441.50" x2="381.10" y2="441.50" class="il"/>
<line x1="354.10" y1="453.50" x2="381.10" y2="453.50" class="il"/>
<line x1="354.10" y1="465.50" x2="381.10" y2="465.50" class="il"/>
<line x1="354.10" y1="477.50" x2="381.10" y2="477.50" class="il"/>
<line x1="354.10" y1="489.50" x2="381.10" y2="489.50" class="il"/>
<line x1="354.10" y1="501.50" x2="381.10" y2="501.50" class="il"/>
<line x1="354.10" y1="513.50" x2="381.10" y2="513.50" class="il"/>
<line x1="354.10" y1="525.50" x2="381.10" y2="525.50" class="il"/>
<line x1="354.10" y1="537.50" x2="381.10" y2="537.50" class="il"/>
<line x1="354.10" y1="549.50" x2="381.10" y2="549.50" class="il"/>
<line x1="367.50" y1="296.60" x2="367.50" y2="561.60" class="vl"/>
<rect x="354.10" y="296.60" width="27.00" height="265.00" class="ob"/>
<text x="324.60" y="305.00" class="lb">CH#4</text>
<text x="324.60" y="316.94" class="lb">PL#26</text>
<text x="324.60" y="329.01" class="lb">PL#29</text>
<text x="324.60" y="341.09" class="lb">CH#2</text>
<text x="324.60" y="353.16" class="lb">CH#3</text>
<text x="324.60" y="365.24" class="lb">PL#11</text>
<text x="324.60" y="377.31" class="lb">CH#6</text>
<text x="324.60" y="389.39" class="lb">CH#7</text>
<text x="324.60" y="401.46" class="lb">PL#13</text>
<text x="324.60" y="413.54" class="lb">PL#5</text>
<text x="324.60" y="425.61" class="lb">PL#30</text>
<text x="324.60" y="437.69" class="lb">PL#6</text>
<text x="324.60" y="449.76" class="lb">PL#24</text>
<text x="324.60" y="461.84" class="lb">PL#9</text>
<text x="324.60" y="473.91" class="lb">PL#34</text>
<text x="324.60" y="485.99" class="lb">PL#10</text>
<text x="324.60" y="498.06" class="lb">PL#7</text>
<text x="324.60" y="510.14" class="lb">PL#28</text>
<text x="324.60" y="522.21" class="lb">PL#31</text>
<text x="324.60" y="534.29" class="lb">CH#1</text>
<text x="324.60" y="546.36" class="lb">CH#5</text>
<text x="324.60" y="558.25" class="lb">CH#8</text>
<text x="367.50" y="267.20" class="tt">CD102</text>
<text x="360.90" y="290.80" class="dm">Dx</text>
<text x="375.50" y="290.80" class="dm">M</text>
<rect x="419.00" y="295.90" width="13.50" height="11.60" fill="#ED1C24"/>
<rect x="432.50" y="295.90" width="13.60" height="11.60" fill="#ED1C24"/>
<rect x="419.00" y="307.50" width="13.50" height="12.00" fill="#F59AA0"/>
<rect x="432.50" y="307.50" width="13.60" height="12.00" fill="#ED1C24"/>
<rect x="419.00" y="319.50" width="13.50" height="12.00" fill="#ED1C24"/>
<rect x="432.50" y="319.50" width="13.60" height="12.00" fill="#F59AA0"/>
<rect x="419.00" y="331.50" width="13.50" height="12.00" fill="#ED1C24"/>
<rect x="432.50" y="331.50" width="13.60" height="12.00" fill="#F59AA0"/>
<rect x="419.00" y="343.50" width="13.50" height="12.00" fill="#ED1C24"/>
<rect x="432.50" y="343.50" width="13.60" height="12.00" fill="#FFFFFF"/>
<rect x="419.00" y="355.50" width="13.50" height="12.00" fill="#ED1C24"/>
<rect x="432.50" y="355.50" width="13.60" height="12.00" fill="#FFFFFF"/>
<rect x="419.00" y="367.50" width="13.50" height="13.00" fill="#ED1C24"/>
<rect x="432.50" y="367.50" width="13.60" height="13.00" fill="#FFFFFF"/>
<rect x="419.00" y="380.50" width="13.50" height="12.00" fill="#F59AA0"/>
<rect x="432.50" y="380.50" width="13.60" height="12.00" fill="#FFFFFF"/>
<rect x="419.00" y="392.50" width="13.50" height="12.00" fill="#ED1C24"/>
<rect x="432.50" y="392.50" width="13.60" height="12.00" fill="#C0D2EC"/>
<rect x="419.00" y="404.50" width="13.50" height="12.00" fill="#C0D2EC"/>
<rect x="432.50" y="404.50" width="13.60" height="12.00" fill="#FFFFFF"/>
<rect x="419.00" y="416.50" width="13.50" height="12.00" fill="#FFFFFF"/>
<rect x="432.50" y="416.50" width="13.60" height="12.00" fill="#FFFFFF"/>
<rect x="419.00" y="428.50" width="13.50" height="12.00" fill="#FFFFFF"/>
<rect x="432.50" y="428.50" width="13.60" height="12.00" fill="#FFFFFF"/>
<rect x="419.00" y="440.50" width="13.50" height="12.00" fill="#FFFFFF"/>
<rect x="432.50" y="440.50" width="13.60" height="12.00" fill="#FFFFFF"/>
<rect x="419.00" y="452.50" width="13.50" height="12.00" fill="#FFFFFF"/>
<rect x="432.50" y="452.50" width="13.60" height="12.00" fill="#FFFFFF"/>
<rect x="419.00" y="464.50" width="13.50" height="12.00" fill="#FFFFFF"/>
<rect x="432.50" y="464.50" width="13.60" height="12.00" fill="#FFFFFF"/>
<rect x="419.00" y="476.50" width="13.50" height="12.00" fill="#FFFFFF"/>
<rect x="432.50" y="476.50" width="13.60" height="12.00" fill="#FFFFFF"/>
<rect x="419.00" y="488.50" width="13.50" height="12.00" fill="#FFFFFF"/>
<rect x="432.50" y="488.50" width="13.60" height="12.00" fill="#FFFFFF"/>
<rect x="419.00" y="500.50" width="13.50" height="12.00" fill="#FFFFFF"/>
<rect x="432.50" y="500.50" width="13.60" height="12.00" fill="#FFFFFF"/>
<rect x="419.00" y="512.50" width="13.50" height="12.00" fill="#FFFFFF"/>
<rect x="432.50" y="512.50" width="13.60" height="12.00" fill="#FFFFFF"/>
<rect x="419.00" y="524.50" width="13.50" height="12.00" fill="#FFFFFF"/>
<rect x="432.50" y="524.50" width="13.60" height="12.00" fill="#FFFFFF"/>
<rect x="419.00" y="536.50" width="13.50" height="12.00" fill="#FFFFFF"/>
<rect x="432.50" y="536.50" width="13.60" height="12.00" fill="#FFFFFF"/>
<rect x="419.00" y="548.50" width="13.50" height="12.00" fill="#FFFFFF"/>
<rect x="432.50" y="548.50" width="13.60" height="12.00" fill="#FFFFFF"/>
<rect x="419.00" y="560.50" width="13.50" height="12.00" fill="#FFFFFF"/>
<rect x="432.50" y="560.50" width="13.60" height="12.00" fill="#FFFFFF"/>
<rect x="419.00" y="572.50" width="13.50" height="12.00" fill="#FFFFFF"/>
<rect x="432.50" y="572.50" width="13.60" height="12.00" fill="#FFFFFF"/>
<rect x="419.00" y="584.50" width="13.50" height="13.00" fill="#FFFFFF"/>
<rect x="432.50" y="584.50" width="13.60" height="13.00" fill="#FFFFFF"/>
<rect x="419.00" y="597.50" width="13.50" height="12.00" fill="#FFFFFF"/>
<rect x="432.50" y="597.50" width="13.60" height="12.00" fill="#FFFFFF"/>
<rect x="419.00" y="609.50" width="13.50" height="12.00" fill="#FFFFFF"/>
<rect x="432.50" y="609.50" width="13.60" height="12.00" fill="#FFFFFF"/>
<rect x="419.00" y="621.50" width="13.50" height="12.00" fill="#FFFFFF"/>
<rect x="432.50" y="621.50" width="13.60" height="12.00" fill="#FFFFFF"/>
<rect x="419.00" y="633.50" width="13.50" height="12.00" fill="#FFFFFF"/>
<rect x="432.50" y="633.50" width="13.60" height="12.00" fill="#C0D2EC"/>
<rect x="419.00" y="645.50" width="13.50" height="12.00" fill="#C0D2EC"/>
<rect x="432.50" y="645.50" width="13.60" height="12.00" fill="#C0D2EC"/>
<rect x="419.00" y="657.50" width="13.50" height="11.10" fill="#C0D2EC"/>
<rect x="432.50" y="657.50" width="13.60" height="11.10" fill="#C0D2EC"/>
<line x1="419.00" y1="307.50" x2="446.10" y2="307.50" class="il"/>
<line x1="419.00" y1="319.50" x2="446.10" y2="319.50" class="il"/>
<line x1="419.00" y1="331.50" x2="446.10" y2="331.50" class="il"/>
<line x1="419.00" y1="343.50" x2="446.10" y2="343.50" class="il"/>
<line x1="419.00" y1="355.50" x2="446.10" y2="355.50" class="il"/>
<line x1="419.00" y1="367.50" x2="446.10" y2="367.50" class="il"/>
<line x1="419.00" y1="380.50" x2="446.10" y2="380.50" class="il"/>
<line x1="419.00" y1="392.50" x2="446.10" y2="392.50" class="il"/>
<line x1="419.00" y1="404.50" x2="446.10" y2="404.50" class="il"/>
<line x1="419.00" y1="416.50" x2="446.10" y2="416.50" class="il"/>
<line x1="419.00" y1="428.50" x2="446.10" y2="428.50" class="il"/>
<line x1="419.00" y1="440.50" x2="446.10" y2="440.50" class="il"/>
<line x1="419.00" y1="452.50" x2="446.10" y2="452.50" class="il"/>
<line x1="419.00" y1="464.50" x2="446.10" y2="464.50" class="il"/>
<line x1="419.00" y1="476.50" x2="446.10" y2="476.50" class="il"/>
<line x1="419.00" y1="488.50" x2="446.10" y2="488.50" class="il"/>
<line x1="419.00" y1="500.50" x2="446.10" y2="500.50" class="il"/>
<line x1="419.00" y1="512.50" x2="446.10" y2="512.50" class="il"/>
<line x1="419.00" y1="524.50" x2="446.10" y2="524.50" class="il"/>
<line x1="419.00" y1="536.50" x2="446.10" y2="536.50" class="il"/>
<line x1="419.00" y1="548.50" x2="446.10" y2="548.50" class="il"/>
<line x1="419.00" y1="560.50" x2="446.10" y2="560.50" class="il"/>
<line x1="419.00" y1="572.50" x2="446.10" y2="572.50" class="il"/>
<line x1="419.00" y1="584.50" x2="446.10" y2="584.50" class="il"/>
<line x1="419.00" y1="597.50" x2="446.10" y2="597.50" class="il"/>
<line x1="419.00" y1="609.50" x2="446.10" y2="609.50" class="il"/>
<line x1="419.00" y1="621.50" x2="446.10" y2="621.50" class="il"/>
<line x1="419.00" y1="633.50" x2="446.10" y2="633.50" class="il"/>
<line x1="419.00" y1="645.50" x2="446.10" y2="645.50" class="il"/>
<line x1="419.00" y1="657.50" x2="446.10" y2="657.50" class="il"/>
<line x1="432.50" y1="295.90" x2="432.50" y2="668.60" class="vl"/>
<rect x="419.00" y="295.90" width="27.10" height="372.70" class="ob"/>
<text x="389.80" y="304.30" class="lb">CH#6</text>
<text x="389.80" y="316.23" class="lb">PL#23</text>
<text x="389.80" y="328.28" class="lb">CH#1</text>
<text x="389.80" y="340.34" class="lb">CH#10</text>
<text x="389.80" y="352.39" class="lb">CH#2</text>
<text x="389.80" y="364.45" class="lb">CH#5</text>
<text x="389.80" y="376.50" class="lb">PL#11</text>
<text x="389.80" y="388.56" class="lb">PL#27</text>
<text x="389.80" y="400.61" class="lb">CH#3</text>
<text x="389.80" y="412.67" class="lb">PL#25</text>
<text x="389.80" y="424.72" class="lb">PL#22</text>
<text x="389.80" y="436.78" class="lb">PL#24</text>
<text x="389.80" y="448.83" class="lb">PL#26</text>
<text x="389.80" y="460.89" class="lb">PL#28</text>
<text x="389.80" y="472.34" class="lb">PL#29</text>
<text x="389.80" y="484.40" class="lb">PL#30</text>
<text x="389.80" y="496.06" class="lb">PL#31</text>
<text x="389.80" y="509.11" class="lb">PL#32</text>
<text x="389.80" y="521.57" class="lb">PL#33</text>
<text x="389.80" y="533.22" class="lb">PL#34</text>
<text x="389.80" y="545.68" class="lb">PL#35</text>
<text x="389.80" y="558.33" class="lb">PL#36</text>
<text x="389.80" y="570.79" class="lb">PL#9</text>
<text x="389.80" y="581.44" class="lb">PL#10</text>
<text x="389.80" y="592.90" class="lb">PL#12</text>
<text x="389.80" y="605.55" class="lb">PL#13</text>
<text x="389.80" y="617.61" class="lb">PL#4</text>
<text x="389.80" y="629.66" class="lb">PL#7</text>
<text x="389.80" y="640.82" class="lb">CH#4</text>
<text x="389.80" y="653.77" class="lb">CH#5</text>
<text x="389.80" y="664.95" class="lb">CH#8</text>
<text x="432.30" y="267.20" class="tt">CD31</text>
<text x="426.00" y="291.10" class="dm">Dx</text>
<text x="440.50" y="291.10" class="dm">M</text>
<rect x="485.00" y="296.60" width="13.50" height="11.90" fill="#F59AA0"/>
<rect x="498.50" y="296.60" width="12.70" height="11.90" fill="#C0D2EC"/>
<rect x="485.00" y="308.50" width="13.50" height="12.00" fill="#FFFFFF"/>
<rect x="498.50" y="308.50" width="12.70" height="12.00" fill="#FFFFFF"/>
<rect x="485.00" y="320.50" width="13.50" height="12.00" fill="#FFFFFF"/>
<rect x="498.50" y="320.50" width="12.70" height="12.00" fill="#FFFFFF"/>
<rect x="485.00" y="332.50" width="13.50" height="12.00" fill="#FFFFFF"/>
<rect x="498.50" y="332.50" width="12.70" height="12.00" fill="#FFFFFF"/>
<rect x="485.00" y="344.50" width="13.50" height="11.00" fill="#FFFFFF"/>
<rect x="498.50" y="344.50" width="12.70" height="11.00" fill="#FFFFFF"/>
<rect x="485.00" y="355.50" width="13.50" height="12.00" fill="#FFFFFF"/>
<rect x="498.50" y="355.50" width="12.70" height="12.00" fill="#FFFFFF"/>
<rect x="485.00" y="367.50" width="13.50" height="12.00" fill="#C0D2EC"/>
<rect x="498.50" y="367.50" width="12.70" height="12.00" fill="#BFBFBF"/>
<rect x="485.00" y="379.50" width="13.50" height="12.00" fill="#FFFFFF"/>
<rect x="498.50" y="379.50" width="12.70" height="12.00" fill="#C0D2EC"/>
<rect x="485.00" y="391.50" width="13.50" height="12.00" fill="#FFFFFF"/>
<rect x="498.50" y="391.50" width="12.70" height="12.00" fill="#3A659F"/>
<rect x="485.00" y="403.50" width="13.50" height="12.00" fill="#3A659F"/>
<rect x="498.50" y="403.50" width="12.70" height="12.00" fill="#C0D2EC"/>
<rect x="485.00" y="415.50" width="13.50" height="11.20" fill="#C0D2EC"/>
<rect x="498.50" y="415.50" width="12.70" height="11.20" fill="#C0D2EC"/>
<line x1="485.00" y1="308.50" x2="511.20" y2="308.50" class="il"/>
<line x1="485.00" y1="320.50" x2="511.20" y2="320.50" class="il"/>
<line x1="485.00" y1="332.50" x2="511.20" y2="332.50" class="il"/>
<line x1="485.00" y1="344.50" x2="511.20" y2="344.50" class="il"/>
<line x1="485.00" y1="355.50" x2="511.20" y2="355.50" class="il"/>
<line x1="485.00" y1="367.50" x2="511.20" y2="367.50" class="il"/>
<line x1="485.00" y1="379.50" x2="511.20" y2="379.50" class="il"/>
<line x1="485.00" y1="391.50" x2="511.20" y2="391.50" class="il"/>
<line x1="485.00" y1="403.50" x2="511.20" y2="403.50" class="il"/>
<line x1="485.00" y1="415.50" x2="511.20" y2="415.50" class="il"/>
<line x1="498.50" y1="296.60" x2="498.50" y2="426.70" class="vl"/>
<rect x="485.00" y="296.60" width="26.20" height="130.10" class="ob"/>
<text x="455.00" y="304.95" class="lb">CH#4</text>
<text x="455.00" y="316.76" class="lb">PL#9</text>
<text x="455.00" y="328.67" class="lb">PL#13</text>
<text x="455.00" y="340.58" class="lb">PL#7</text>
<text x="455.00" y="352.49" class="lb">PL#4</text>
<text x="455.00" y="364.40" class="lb">CH#2</text>
<text x="455.00" y="376.31" class="lb">CH#5</text>
<text x="455.00" y="387.42" class="lb">CH#1</text>
<text x="455.00" y="400.13" class="lb">CH#3</text>
<text x="455.00" y="412.04" class="lb">CH#6</text>
<text x="455.00" y="424.40" class="lb">CH#8</text>
<text x="498.45" y="267.20" class="tt">CD317</text>
<text x="492.80" y="291.20" class="dm">Dx</text>
<text x="507.35" y="291.20" class="dm">M</text>
<rect x="485.00" y="464.60" width="13.50" height="11.90" fill="#F59AA0"/>
<rect x="498.50" y="464.60" width="12.70" height="11.90" fill="#ED1C24"/>
<rect x="485.00" y="476.50" width="13.50" height="12.00" fill="#ED1C24"/>
<rect x="498.50" y="476.50" width="12.70" height="12.00" fill="#BFBFBF"/>
<rect x="485.00" y="488.50" width="13.50" height="11.00" fill="#C0D2EC"/>
<rect x="498.50" y="488.50" width="12.70" height="11.00" fill="#FFFFFF"/>
<rect x="485.00" y="499.50" width="13.50" height="12.00" fill="#FFFFFF"/>
<rect x="498.50" y="499.50" width="12.70" height="12.00" fill="#FFFFFF"/>
<rect x="485.00" y="511.50" width="13.50" height="11.70" fill="#FFFFFF"/>
<rect x="498.50" y="511.50" width="12.70" height="11.70" fill="#FFFFFF"/>
<line x1="485.00" y1="476.50" x2="511.20" y2="476.50" class="il"/>
<line x1="485.00" y1="488.50" x2="511.20" y2="488.50" class="il"/>
<line x1="485.00" y1="499.50" x2="511.20" y2="499.50" class="il"/>
<line x1="485.00" y1="511.50" x2="511.20" y2="511.50" class="il"/>
<line x1="498.50" y1="464.60" x2="498.50" y2="523.20" class="vl"/>
<rect x="485.00" y="464.60" width="26.20" height="58.60" class="ob"/>
<text x="454.50" y="472.75" class="lb">CH#3</text>
<text x="454.50" y="485.65" class="lb">PL#12</text>
<text x="454.50" y="496.65" class="lb">PL#7</text>
<text x="454.50" y="508.45" class="lb">CH#1</text>
<text x="454.50" y="521.10" class="lb">CH#2</text>
<text x="499.50" y="445.00" class="tt">CD217</text>
<text x="492.65" y="460.10" class="dm">Dx</text>
<text x="507.50" y="460.10" class="dm">M</text>
<rect x="485.00" y="561.20" width="13.50" height="12.30" fill="#ED1C24"/>
<rect x="498.50" y="561.20" width="12.90" height="12.30" fill="#ED1C24"/>
<rect x="485.00" y="573.50" width="13.50" height="11.00" fill="#ED1C24"/>
<rect x="498.50" y="573.50" width="12.90" height="11.00" fill="#ED1C24"/>
<rect x="485.00" y="584.50" width="13.50" height="12.00" fill="#ED1C24"/>
<rect x="498.50" y="584.50" width="12.90" height="12.00" fill="#ED1C24"/>
<rect x="485.00" y="596.50" width="13.50" height="12.00" fill="#ED1C24"/>
<rect x="498.50" y="596.50" width="12.90" height="12.00" fill="#ED1C24"/>
<rect x="485.00" y="608.50" width="13.50" height="12.00" fill="#ED1C24"/>
<rect x="498.50" y="608.50" width="12.90" height="12.00" fill="#ED1C24"/>
<rect x="485.00" y="620.50" width="13.50" height="11.00" fill="#ED1C24"/>
<rect x="498.50" y="620.50" width="12.90" height="11.00" fill="#ED1C24"/>
<rect x="485.00" y="631.50" width="13.50" height="12.00" fill="#ED1C24"/>
<rect x="498.50" y="631.50" width="12.90" height="12.00" fill="#ED1C24"/>
<rect x="485.00" y="643.50" width="13.50" height="12.00" fill="#ED1C24"/>
<rect x="498.50" y="643.50" width="12.90" height="12.00" fill="#ED1C24"/>
<rect x="485.00" y="655.50" width="13.50" height="11.00" fill="#ED1C24"/>
<rect x="498.50" y="655.50" width="12.90" height="11.00" fill="#ED1C24"/>
<line x1="485.00" y1="573.50" x2="511.40" y2="573.50" class="il"/>
<line x1="485.00" y1="584.50" x2="511.40" y2="584.50" class="il"/>
<line x1="485.00" y1="596.50" x2="511.40" y2="596.50" class="il"/>
<line x1="485.00" y1="608.50" x2="511.40" y2="608.50" class="il"/>
<line x1="485.00" y1="620.50" x2="511.40" y2="620.50" class="il"/>
<line x1="485.00" y1="631.50" x2="511.40" y2="631.50" class="il"/>
<line x1="485.00" y1="643.50" x2="511.40" y2="643.50" class="il"/>
<line x1="485.00" y1="655.50" x2="511.40" y2="655.50" class="il"/>
<line x1="498.50" y1="561.20" x2="498.50" y2="666.50" class="vl"/>
<rect x="485.00" y="561.20" width="26.40" height="105.30" class="ob"/>
<text x="455.00" y="570.80" class="lb">CH#1</text>
<text x="455.00" y="581.96" class="lb">CH#2</text>
<text x="455.00" y="593.07" class="lb">CH#3</text>
<text x="455.00" y="605.99" class="lb">CH#4</text>
<text x="455.00" y="617.60" class="lb">CH#5</text>
<text x="455.00" y="629.11" class="lb">CH#6</text>
<text x="455.00" y="641.13" class="lb">CH#7</text>
<text x="455.00" y="653.04" class="lb">CH#8</text>
<text x="455.00" y="664.95" class="lb">CH#10</text>
<text x="500.30" y="541.80" class="tt">CD58</text>
<text x="493.40" y="556.50" class="dm">Dx</text>
<text x="507.85" y="556.50" class="dm">M</text>
<rect x="1.5" y="632.5" width="366" height="35.5" fill="none" stroke="#444" stroke-width="1"/>
<text x="6.2" y="642.6" class="lg1">difference in MFI (a.u.)</text>
<rect x="8.80" y="650.4" width="12" height="10.8" fill="#ED1C24" stroke="#333" stroke-width="1"/>
<text x="24.30" y="659.3" class="lg2">&gt;1000</text>
<rect x="54.80" y="650.4" width="12" height="10.8" fill="#F59AA0" stroke="#333" stroke-width="1"/>
<text x="70.00" y="659.3" class="lg2">1000- 450</text>
<rect x="113.30" y="650.4" width="12" height="10.8" fill="#FFFFFF" stroke="#333" stroke-width="1"/>
<text x="127.00" y="659.3" class="lg2">450 - (- 450)</text>
<rect x="180.10" y="650.4" width="12" height="10.8" fill="#C0D2EC" stroke="#333" stroke-width="1"/>
<text x="192.60" y="659.3" class="lg2">(-450) - (-1000)</text>
<rect x="258.60" y="650.4" width="12" height="10.8" fill="#3A659F" stroke="#333" stroke-width="1"/>
<text x="272.60" y="659.3" class="lg2">&lt; (-1000)</text>
<rect x="315.50" y="650.4" width="12" height="10.8" fill="#BFBFBF" stroke="#333" stroke-width="1"/>
<text x="329.60" y="659.3" class="lg2">negative</text>
</svg></body></html>
